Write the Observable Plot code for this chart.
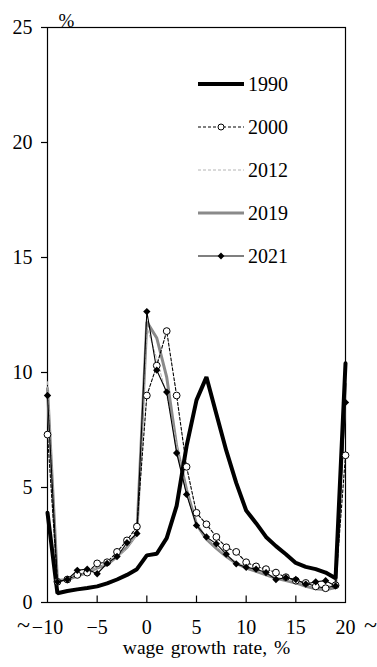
<!DOCTYPE html>
<html>
<head>
<meta charset="utf-8">
<script src="https://cdn.jsdelivr.net/npm/d3@7"></script>
<script src="https://cdn.jsdelivr.net/npm/@observablehq/plot@0.6"></script>
<style>
  html, body { margin: 0; padding: 0; background: #fff; }
  #wrap { position: relative; width: 377px; height: 667px; font-family: "Liberation Serif", "Times New Roman", serif; }
  #legend { position: absolute; left: 190px; top: 60px; }
</style>
</head>
<body>
<div id="wrap"><div id="chart"></div><div id="legend"></div></div>
<script>
// ---- data ----
const wage = [-10,-9,-8,-7,-6,-5,-4,-3,-2,-1,0,1,2,3,4,5,6,7,8,9,10,11,12,13,14,15,16,17,18,19,20];
const y1990 = [3.9,0.4,0.5,0.57,0.63,0.7,0.83,1.0,1.2,1.45, 2.05,2.12,2.8,4.2,6.8,8.8,9.8,8.2,6.6,5.2, 4.0,3.45,2.85,2.45,2.1,1.72,1.55,1.45,1.3,1.05, 10.4];
const y2000 = [7.3,0.9,1.0,1.2,1.3,1.7,1.75,2.2,2.7,3.3, 9.0,10.3,11.8,9.0,5.9,3.9,3.4,2.85,2.4,2.2, 1.75,1.57,1.45,1.3,1.1,0.95,0.85,0.7,0.62,0.75, 6.4];
const y2012 = [9.6,1.0,1.05,1.2,1.35,1.5,1.7,1.95,2.35,2.95, 12.0,10.6,9.0,6.9,4.8,3.4,2.8,2.4,2.05,1.75, 1.55,1.4,1.25,1.1,1.0,0.9,0.8,0.72,0.68,0.8, 9.8];
const y2019 = [9.3,0.95,1.0,1.15,1.3,1.5,1.65,2.0,2.4,3.0, 12.2,11.5,9.8,6.8,4.9,3.4,2.75,2.35,2.0,1.7, 1.5,1.35,1.2,1.05,0.95,0.85,0.7,0.6,0.55,0.65, 9.5];
const y2021 = [9.0,0.9,1.0,1.4,1.45,1.25,1.7,2.0,2.6,3.0, 12.65,10.1,9.15,6.5,4.7,3.35,2.85,2.55,2.1,1.68, 1.53,1.45,1.3,1.0,1.08,1.0,0.8,0.9,0.95,0.72, 8.7];
const years = ["1990","2000","2012","2019","2021"];
const xTicks = [-10,-5,0,5,10,15,20];
const xInnerTicks = [-5,0,5,10,15];
const yTicks = [0,5,10,15,20,25];
const xLabel = "wage growth rate, %";
const yLabel = "%";

// ---- styles ----
const st = {
  "1990": {stroke: "#000", width: 4, dash: null, sym: null},
  "2000": {stroke: "#000", width: 1.1, dash: "3,2", sym: "circle"},
  "2012": {stroke: "#b4b4b4", width: 1, dash: "3,2", sym: null},
  "2019": {stroke: "#8a8a8a", width: 3, dash: null, sym: null},
  "2021": {stroke: "#000", width: 1.1, dash: null, sym: "diamond"}
};
const vals = {"1990": y1990, "2000": y2000, "2012": y2012, "2019": y2019, "2021": y2021};
const rows = years.map(yr => wage.map((w, i) => ({wage: w, value: vals[yr][i], year: yr})));
const byYear = Object.fromEntries(years.map((yr, k) => [yr, rows[k]]));

const FONT = "Liberation Serif, Times New Roman, serif";
const lineOf = yr => Plot.line(byYear[yr], {x: "wage", y: "value", stroke: st[yr].stroke, strokeWidth: st[yr].width, strokeDasharray: st[yr].dash, strokeLinejoin: "miter"});

const chart = Plot.plot({
  width: 377, height: 667,
  marginTop: 27, marginBottom: 65, marginLeft: 47, marginRight: 32,
  style: {fontFamily: FONT, background: "#fff", color: "#000"},
  x: {domain: [-10, 20]},
  y: {domain: [0, 25]},
  marks: [
    Plot.frame({stroke: "#000", strokeWidth: 1.2}),
    Plot.axisY({ticks: yTicks, tickSize: 6, tickPadding: 9, fontSize: 20, label: null, strokeWidth: 1.2}),
    Plot.axisX({ticks: xTicks, tickSize: 0, tickPadding: 17, fontSize: 20, label: null}),
    Plot.ruleX(xInnerTicks, {y1: 0, y2: 0.28, stroke: "#000", strokeWidth: 1.2}),
    Plot.text(["~"], {x: xTicks[0], frameAnchor: "bottom", dy: 30, dx: -24, fontSize: 24, text: d => d}),
    Plot.text(["~"], {x: xTicks[xTicks.length - 1], frameAnchor: "bottom", dy: 30, dx: 25, fontSize: 24, text: d => d}),
    Plot.text([xLabel], {frameAnchor: "bottom", dy: 51, dx: 10, fontSize: 19.5, text: d => d}),
    Plot.text([yLabel], {frameAnchor: "top-left", dx: 11, dy: -14, fontSize: 19, text: d => d}),
    lineOf("2019"),
    lineOf("2012"),
    lineOf("1990"),
    lineOf("2000"),
    lineOf("2021"),
    Plot.dot(byYear["2000"], {x: "wage", y: "value", symbol: "circle", r: 3.4, fill: "#fff", stroke: "#000", strokeWidth: 1}),
    Plot.dot(byYear["2021"], {x: "wage", y: "value", symbol: "diamond2", r: 3.3, fill: "#000", stroke: "none"})
  ]
});
chart.querySelectorAll("text").forEach(t => { if (t.textContent === xLabel) t.setAttribute("word-spacing", "2"); });
document.getElementById("chart").appendChild(chart);

// ---- legend ----
const lg = d3.select("#legend").append("svg").attr("width", 130).attr("height", 220)
  .style("font-family", FONT);
years.forEach((yr, i) => {
  const cy = 24 + i * 43;
  const g = lg.append("g");
  g.append("line").attr("x1", 8).attr("x2", 54).attr("y1", cy).attr("y2", cy)
    .attr("stroke", st[yr].stroke).attr("stroke-width", st[yr].width)
    .attr("stroke-dasharray", st[yr].dash);
  if (st[yr].sym === "circle") {
    g.append("circle").attr("cx", 31).attr("cy", cy).attr("r", 3).attr("fill", "#fff").attr("stroke", "#000");
  } else if (st[yr].sym === "diamond") {
    g.append("path").attr("d", d3.symbol(d3.symbolDiamond2, 30)()).attr("transform", `translate(31,${cy})`).attr("fill", "#000");
  }
  g.append("text").attr("x", 58).attr("y", cy).attr("dy", "0.35em").attr("font-size", 20).text(yr);
});
</script>
</body>
</html>
